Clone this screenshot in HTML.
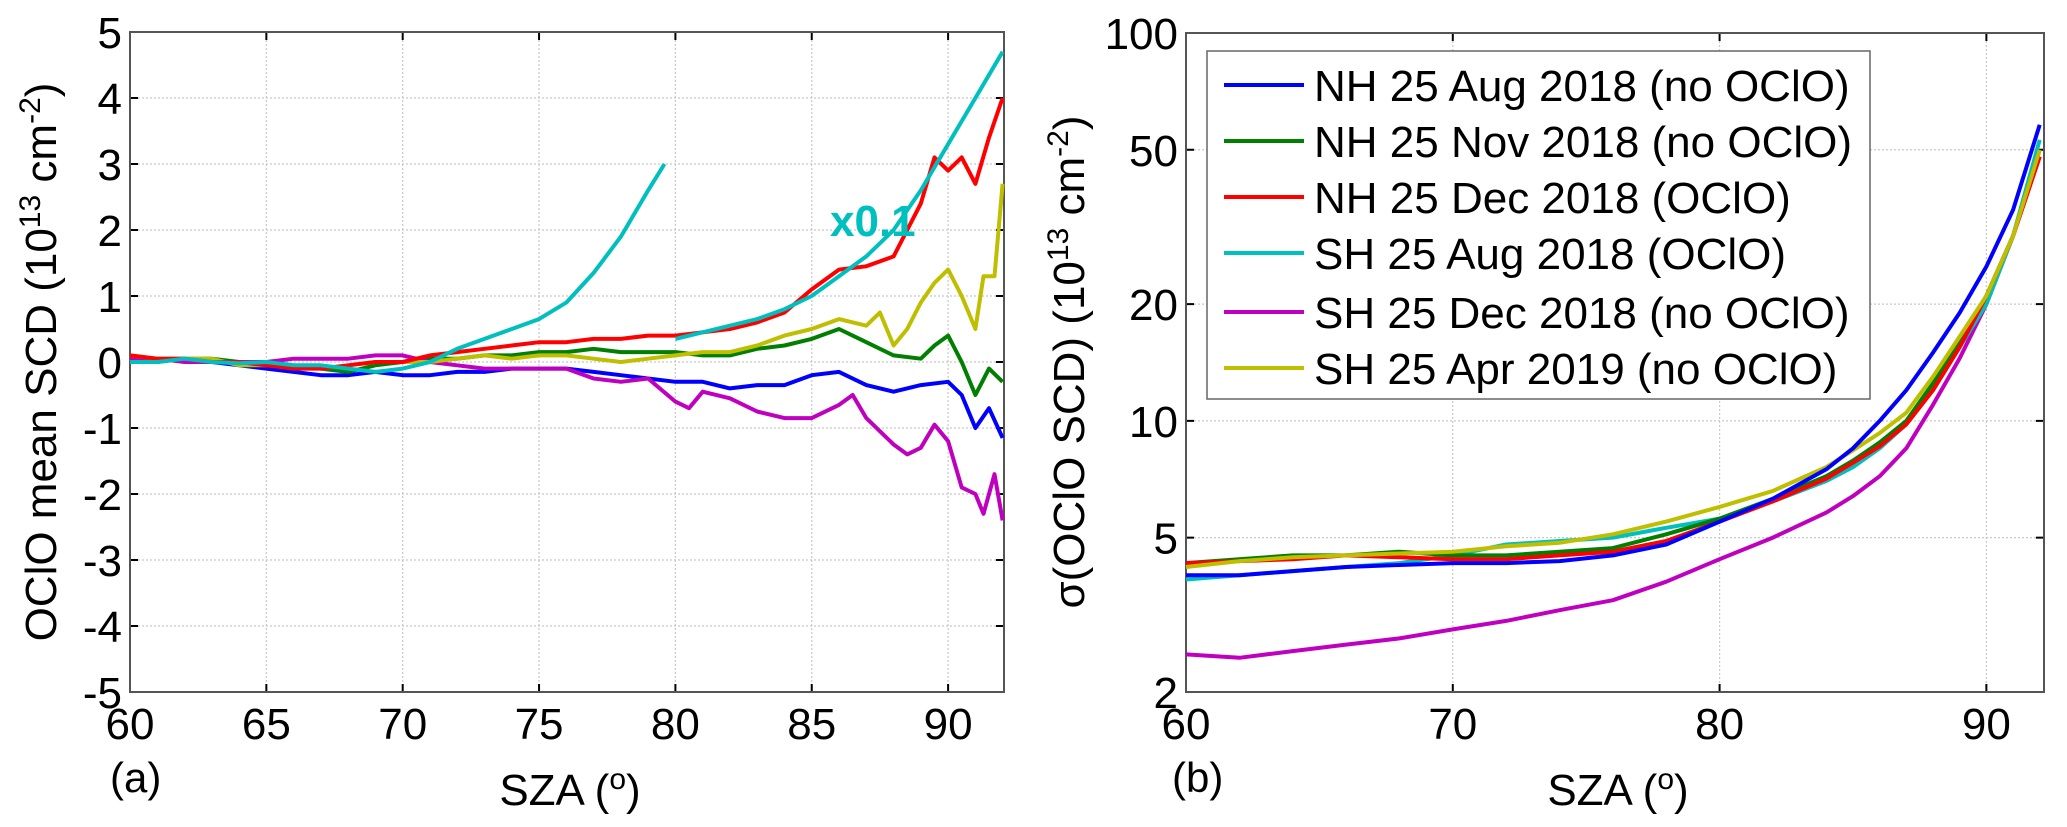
<!DOCTYPE html>
<html><head><meta charset="utf-8"><style>
body{margin:0;background:#fff}
svg{display:block;font-family:"Liberation Sans",sans-serif}
</style></head><body>
<svg id="chart" width="2067" height="827" viewBox="0 0 2067 827" xmlns="http://www.w3.org/2000/svg">
<g id="pa"></g>
<g id="pb"></g>
</svg>
<script>
const NS="http://www.w3.org/2000/svg";
const colors=["#0000ff","#007f00","#ff0000","#00bfbf","#bf00bf","#bfbf00"];
const seriesNames=["NH 25 Aug 2018 (no OClO)","NH 25 Nov 2018 (no OClO)","NH 25 Dec 2018 (OClO)","SH 25 Aug 2018 (OClO)","SH 25 Dec 2018 (no OClO)","SH 25 Apr 2019 (no OClO)"];
// Panel a data
const aBlueX=[60,61,62,63,64,65,66,67,68,69,70,71,72,73,74,75,76,77,78,79,80,81,82,83,84,85,86,87,88,89,90,90.5,91,91.5,92];
const aBlueY=[0.05,0.05,0.05,0,-0.05,-0.1,-0.15,-0.2,-0.2,-0.15,-0.2,-0.2,-0.15,-0.15,-0.1,-0.1,-0.1,-0.15,-0.2,-0.25,-0.3,-0.3,-0.4,-0.35,-0.35,-0.2,-0.15,-0.35,-0.45,-0.35,-0.3,-0.5,-1.0,-0.7,-1.15];
const aGreenX=[60,61,62,63,64,65,66,67,68,69,70,71,72,73,74,75,76,77,78,79,80,81,82,83,84,85,86,87,88,89,89.5,90,90.5,91,91.5,92];
const aGreenY=[0,0,0.05,0.05,0,0,-0.05,-0.1,-0.15,-0.05,0,0.05,0.05,0.1,0.1,0.15,0.15,0.2,0.15,0.15,0.15,0.1,0.1,0.2,0.25,0.35,0.5,0.3,0.1,0.05,0.25,0.4,0.0,-0.5,-0.1,-0.3];
const aRedX=[60,61,62,63,64,65,66,67,68,69,70,71,72,73,74,75,76,77,78,79,80,81,82,83,84,85,86,87,88,88.5,89,89.5,90,90.5,91,91.5,92];
const aRedY=[0.1,0.05,0.05,0,0,-0.05,-0.1,-0.1,-0.05,0,0,0.1,0.15,0.2,0.25,0.3,0.3,0.35,0.35,0.4,0.4,0.45,0.5,0.6,0.75,1.1,1.4,1.45,1.6,2.0,2.4,3.1,2.9,3.1,2.7,3.4,4.0];
const aCyan1X=[60,61,62,63,64,65,66,67,68,69,70,71,72,73,74,75,76,77,78,79,79.6];
const aCyan1Y=[0,0,0.05,0,-0.02,0,-0.05,-0.05,-0.1,-0.15,-0.1,0,0.2,0.35,0.5,0.65,0.9,1.35,1.9,2.6,3.0];
const aCyan2X=[80,81,82,83,84,85,86,87,88,89,90,91,92];
const aCyan2Y=[0.35,0.45,0.55,0.65,0.8,1.0,1.3,1.6,2.0,2.6,3.3,4.0,4.7];
const aYellowX=[60,61,62,63,64,65,66,67,68,69,70,71,72,73,74,75,76,77,78,79,80,81,82,83,84,85,86,87,87.5,88,88.5,89,89.5,90,90.5,91,91.3,91.7,92];
const aYellowY=[0.1,0.05,0.05,0.05,-0.05,-0.05,-0.05,-0.1,-0.05,0,0,0,0.05,0.1,0.05,0.1,0.1,0.05,0,0.05,0.1,0.15,0.15,0.25,0.4,0.5,0.65,0.55,0.75,0.25,0.5,0.9,1.2,1.4,1.0,0.5,1.3,1.3,2.7];
const aMagX=[60,61,62,63,64,65,66,67,68,69,70,71,72,73,74,75,76,77,78,79,80,80.5,81,82,83,84,85,86,86.5,87,88,88.5,89,89.5,90,90.5,91,91.3,91.7,92];
const aMagY=[0.05,0.05,0,0,0,0,0.05,0.05,0.05,0.1,0.1,0,-0.05,-0.1,-0.1,-0.1,-0.1,-0.25,-0.3,-0.25,-0.6,-0.7,-0.45,-0.55,-0.75,-0.85,-0.85,-0.65,-0.5,-0.85,-1.25,-1.4,-1.3,-0.95,-1.2,-1.9,-2.0,-2.3,-1.7,-2.4];
const aXTicks=[60,65,70,75,80,85,90];
const aYTicks=[-5,-4,-3,-2,-1,0,1,2,3,4,5];
// Panel b data
const bX=[60,62,64,66,68,70,72,74,76,78,80,82,84,85,86,87,88,89,90,91,92];
const bBlue=[4.0,4.0,4.1,4.2,4.25,4.3,4.3,4.35,4.5,4.8,5.5,6.3,7.5,8.5,10,12,15,19,25,35,58];
const bGreen=[4.3,4.4,4.5,4.5,4.6,4.5,4.5,4.6,4.7,5.1,5.6,6.3,7.2,7.9,8.8,10,12.5,16,21,30,50];
const bRed=[4.3,4.35,4.4,4.5,4.45,4.4,4.4,4.5,4.6,4.9,5.5,6.2,7.1,7.8,8.6,9.8,12,15.5,21,30,48];
const bCyan=[3.9,4.0,4.1,4.2,4.3,4.5,4.8,4.9,5.0,5.3,5.6,6.2,7.0,7.6,8.5,9.8,12,15.5,20,30,53];
const bMag=[2.5,2.45,2.55,2.65,2.75,2.9,3.05,3.25,3.45,3.85,4.4,5.0,5.8,6.4,7.2,8.5,11,14.5,20,30,48];
const bYellow=[4.2,4.35,4.45,4.5,4.55,4.6,4.75,4.85,5.1,5.5,6.0,6.6,7.6,8.4,9.3,10.5,13,16.5,21,30,50];
const bXTicks=[60,70,80,90];
const bYTicks=[2,5,10,20,50,100];

function el(parent,tag,attrs,text){const e=document.createElementNS(NS,tag);for(const k in attrs)e.setAttribute(k,attrs[k]);if(text!==undefined)e.textContent=text;parent.appendChild(e);return e;}

const aL=130,aR=1004,aT=32,aB=692;
const ax=v=>aL+(v-60)*(aR-aL)/32.05;
const ay=v=>aT+(5-v)*(aB-aT)/10;
const bL=1186,bR=2044,bT=33,bB=692;
const bx=v=>bL+(v-60)*(bR-bL)/32.16;
const by=v=>bT+(2-Math.log10(v))*(bB-bT)/(2-Math.log10(2));

function frame(g,L,R,T,B,xt,yt,fx,fy){
  for(const t of xt){const x=fx(t);
    const gl=el(g,'line',{x1:x,x2:x,y1:T,y2:B,stroke:'#c8c8c8','stroke-width':1.2,'stroke-dasharray':'2,2'});
    
    el(g,'line',{x1:x,x2:x,y1:T,y2:T+8,stroke:'#000','stroke-width':2});
    el(g,'line',{x1:x,x2:x,y1:B,y2:B-8,stroke:'#000','stroke-width':2});
    const tl=el(g,'text',{x:x,y:B+47,'font-size':44,'text-anchor':'middle'},String(t));
    }
  for(const t of yt){const y=fy(t);
    const gl=el(g,'line',{x1:L,x2:R,y1:y,y2:y,stroke:'#c8c8c8','stroke-width':1.2,'stroke-dasharray':'2,2'});
    
    el(g,'line',{x1:L,x2:L+8,y1:y,y2:y,stroke:'#000','stroke-width':2});
    el(g,'line',{x1:R,x2:R-8,y1:y,y2:y,stroke:'#000','stroke-width':2});
    const tl=el(g,'text',{x:L-8,y:y+16,'font-size':44,'text-anchor':'end'},String(t));
    }
  const b=el(g,'rect',{x:L,y:T,width:R-L,height:B-T,fill:'none',stroke:'#555','stroke-width':2});
  
}
function line(g,xs,ys,fx,fy,c,name){
  const p=el(g,'polyline',{points:xs.map((x,i)=>fx(x).toFixed(1)+','+fy(ys[i]).toFixed(1)).join(' '),fill:'none',stroke:c,'stroke-width':4,'stroke-linejoin':'round'});
  
}
const pa=document.getElementById('pa'),pb=document.getElementById('pb');
frame(pa,aL,aR,aT,aB,aXTicks,aYTicks,ax,ay);
line(pa,aBlueX,aBlueY,ax,ay,colors[0],'series-nh-aug-2018');
line(pa,aGreenX,aGreenY,ax,ay,colors[1],'series-nh-nov-2018');
line(pa,aMagX,aMagY,ax,ay,colors[4],'series-sh-dec-2018');
line(pa,aYellowX,aYellowY,ax,ay,colors[5],'series-sh-apr-2019');
line(pa,aRedX,aRedY,ax,ay,colors[2],'series-nh-dec-2018');
line(pa,aCyan1X,aCyan1Y,ax,ay,colors[3],'series-sh-aug-2018-low');
line(pa,aCyan2X,aCyan2Y,ax,ay,colors[3],'series-sh-aug-2018-scaled');
let t=el(pa,'text',{x:830,y:236,'font-size':44,'font-weight':'bold',fill:'#00bfbf'},'x0.1');

t=el(pa,'text',{x:110,y:792,'font-size':42},'(a)');

t=el(pa,'text',{x:570,y:805,'font-size':44,'text-anchor':'middle'});
t.innerHTML='SZA (<tspan dy="-16" font-size="30">o</tspan><tspan dy="16">)</tspan>';

t=el(pa,'text',{transform:'translate(56,362) rotate(-90)','font-size':44,'text-anchor':'middle'});
t.innerHTML='OClO mean SCD (10<tspan dy="-16" font-size="30">13</tspan><tspan dy="16"> cm</tspan><tspan dy="-16" font-size="30">-2</tspan><tspan dy="16">)</tspan>';


frame(pb,bL,bR,bT,bB,bXTicks,bYTicks,bx,by);
const bSeries=[bBlue,bGreen,bRed,bCyan,bMag,bYellow];
const bNames=['series-nh-aug-2018','series-nh-nov-2018','series-nh-dec-2018','series-sh-aug-2018','series-sh-dec-2018','series-sh-apr-2019'];
[4,3,1,2,5,0].forEach(i=>line(pb,bX,bSeries[i],bx,by,colors[i],bNames[i]));
const lg=el(pb,'g',{});

el(lg,'rect',{x:1207,y:51,width:663,height:348,fill:'#fff',stroke:'#666','stroke-width':1.5});
const ly=[85,141,197,253,312,368];
seriesNames.forEach((n,i)=>{
  const e=el(lg,'g',{});
  
  el(e,'line',{x1:1224,x2:1304,y1:ly[i],y2:ly[i],stroke:colors[i],'stroke-width':4});
  el(e,'text',{x:1314,y:ly[i]+16,'font-size':44},n);
});
t=el(pb,'text',{x:1172,y:792,'font-size':42},'(b)');

t=el(pb,'text',{x:1618,y:805,'font-size':44,'text-anchor':'middle'});
t.innerHTML='SZA (<tspan dy="-16" font-size="30">o</tspan><tspan dy="16">)</tspan>';

t=el(pb,'text',{transform:'translate(1084,362) rotate(-90)','font-size':44,'text-anchor':'middle'});
t.innerHTML='σ(OClO SCD) (10<tspan dy="-16" font-size="30">13</tspan><tspan dy="16"> cm</tspan><tspan dy="-16" font-size="30">-2</tspan><tspan dy="16">)</tspan>';

</script>
</body></html>
